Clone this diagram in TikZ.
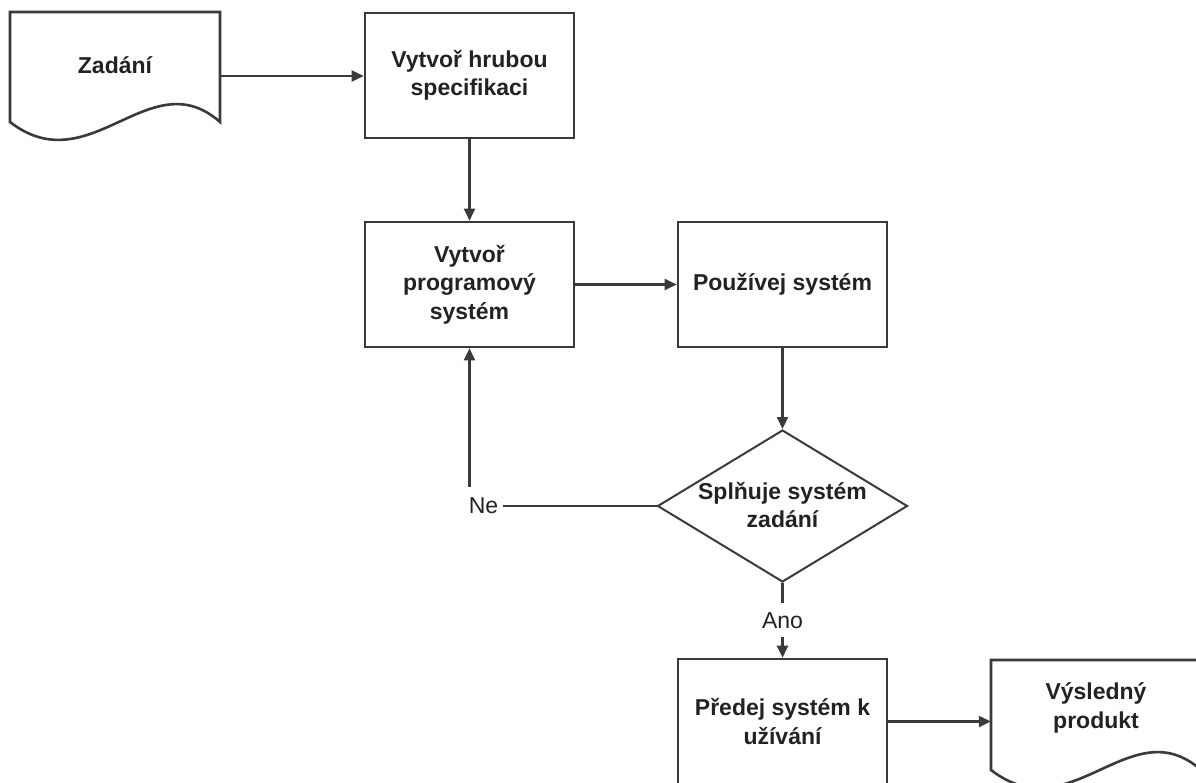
\documentclass[tikz,border=0pt]{standalone}
\usepackage{fontspec}
\setmainfont{Liberation Sans}
\usetikzlibrary{arrows.meta,shapes.geometric}
\definecolor{linegray}{HTML}{3A3A3A}
\definecolor{textgray}{HTML}{222222}

\begin{document}
\begin{tikzpicture}[x=1pt, y=-1pt,
    procbox/.style={draw=linegray, line width=2.6pt, minimum width=209pt, minimum height=125pt, inner sep=0pt, text=textgray, font=\fontsize{23}{28.5}\selectfont\bfseries, align=center},
    docbox/.style={minimum width=210pt, minimum height=128pt, inner sep=0pt},
    docline/.style={draw=linegray, line width=2.6pt, fill=white},
    decbox/.style={draw=linegray, line width=2pt, diamond, minimum width=250pt, minimum height=152pt, inner sep=0pt},
    boxtext/.style={text=textgray, font=\fontsize{23}{28.5}\selectfont\bfseries, align=center},
    edgetext/.style={text=textgray, font=\fontsize{23}{28}\selectfont, fill=white},
    arrow/.style={draw=linegray, line width=2.2pt, -{Triangle[length=12pt, width=11pt]}}]

    \useasboundingbox (0,0) rectangle (1196,782);
    \clip (0,0) rectangle (1196,782);

    % Documents (input and output)
    \draw[docline] (10,12) -- (220,12) -- (220,122) .. controls (150,60) and (90,184) .. (10,122) -- cycle;
    \node[docbox] (zadani) at (115,76) {};
    \node[boxtext] (zadani-t) at (115,65) {Zadání};

    \draw[docline] (991,660) -- (1201,660) -- (1201,770) .. controls (1131,708) and (1071,832) .. (991,770) -- cycle;
    \node[docbox] (vysledek) at (1096,724) {};
    \node[boxtext] (vysledek-t) at (1096,708) {Výsledný\\produkt};

    % Process steps
    \node[procbox] (spec) at (469.5,75.5) {Vytvoř hrubou\\specifikaci};
    \node[procbox] (prog) at (469.5,284.5) {Vytvoř\\programový\\systém};
    \node[procbox] (pouzij) at (782.5,284.5) {Používej systém};
    \node[procbox] (predej) at (782.5,721.5) {Předej systém k\\užívání};

    % Decision
    \node[decbox] (test) at (782.5,506) {};
    \node[boxtext] (test-t) at (782.5,505) {Splňuje systém\\zadání};

    % Connectors
    \draw[arrow] (zadani.east) -- (zadani.east -| spec.west);
    \draw[arrow] (spec) -- (prog);
    \draw[arrow] (prog) -- (pouzij);
    \draw[arrow] (pouzij) -- (test);
    \draw[arrow] (test.west) -| (prog.south)
        node[edgetext, pos=0.5, xshift=14pt, inner xsep=5pt, inner ysep=11pt] (ne) {Ne};
    \draw[arrow] (test.south) -- (predej.north)
        node[edgetext, midway, inner xsep=2pt, inner ysep=9pt] (ano) {Ano};
    \draw[arrow] (predej.east) -- (predej.east -| vysledek.west);
\end{tikzpicture}
\end{document}
